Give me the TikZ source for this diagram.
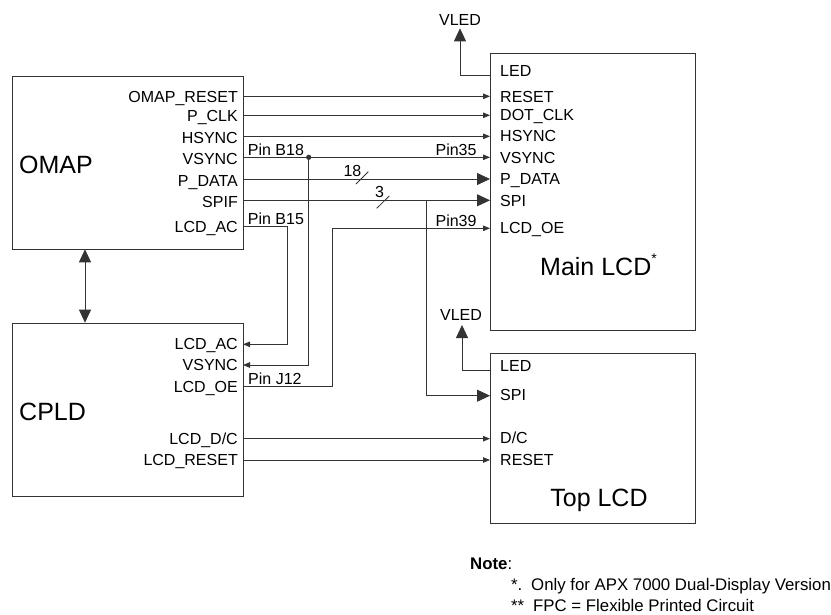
\documentclass[tikz,border=0pt]{standalone}
\usepackage{fontspec}
\setmainfont{Liberation Sans}
\usetikzlibrary{arrows.meta}
\definecolor{lc}{gray}{0.2}
\begin{document}
\begin{tikzpicture}[x=1pt,y=-1pt,
  box/.style={draw=lc, line width=0.9pt, inner sep=0pt, anchor=north west},
  lbl/.style={font=\fontsize{16}{18}\selectfont, inner sep=0pt, text=black},
  big/.style={font=\fontsize{25}{28}\selectfont, inner sep=0pt, text=black},
  nt/.style={font=\fontsize{16.8}{19}\selectfont, inner sep=0pt, text=black, anchor=base west},
  wire/.style={draw=lc, line width=0.8pt},
  sarr/.style={-{Triangle[length=7pt,width=5.5pt]}},
  barr/.style={-{Triangle[length=13pt,width=12pt]}},
  dbarr/.style={{Triangle[length=13pt,width=12pt]}-{Triangle[length=13pt,width=12pt]}}
]
\useasboundingbox (0,0) rectangle (831,614);

% boxes
\node[box, minimum width=231pt, minimum height=173pt] (omap) at (12,76) {};
\node[box, minimum width=231pt, minimum height=173.3pt] (cpld) at (12,322.7) {};
\node[box, minimum width=204.7pt, minimum height=277pt] (main) at (490,53.3) {};
\node[box, minimum width=204.7pt, minimum height=170.3pt] (top) at (490,352.7) {};

% big titles
\node[big, anchor=base west] (tomap) at (19,173.3) {OMAP};
\node[big, anchor=base west] (tcpld) at (19,420) {CPLD};
\node[big, anchor=base west] (tmain) at (540,275) {Main LCD\raisebox{0.45em}{\fontsize{14}{16}\selectfont *}};
\node[big, anchor=base] (ttop) at (599,506) {Top LCD};

% OMAP labels
\node[lbl, anchor=base east] (oa) at (238,102.8) {OMAP\_RESET};
\node[lbl, anchor=base east] (ob) at (238,121.5) {P\_CLK};
\node[lbl, anchor=base east] (oc) at (238,143) {HSYNC};
\node[lbl, anchor=base east] (od) at (238,164.5) {VSYNC};
\node[lbl, anchor=base east] (oe) at (238,186) {P\_DATA};
\node[lbl, anchor=base east] (of) at (238,207.5) {SPIF};
\node[lbl, anchor=base east] (og) at (238,232) {LCD\_AC};

% CPLD labels
\node[lbl, anchor=base east] (ca) at (238,349.5) {LCD\_AC};
\node[lbl, anchor=base east] (cb) at (238,370.3) {VSYNC};
\node[lbl, anchor=base east] (cc) at (238,392) {LCD\_OE};
\node[lbl, anchor=base east] (cd) at (238,444) {LCD\_D/C};
\node[lbl, anchor=base east] (ce) at (238,465) {LCD\_RESET};

% Main LCD labels
\node[lbl, anchor=base west] (ma) at (500,76) {LED};
\node[lbl, anchor=base west] (mb) at (500,102.5) {RESET};
\node[lbl, anchor=base west] (mc) at (500,120.8) {DOT\_CLK};
\node[lbl, anchor=base west] (md) at (500,141.8) {HSYNC};
\node[lbl, anchor=base west] (me) at (500,163) {VSYNC};
\node[lbl, anchor=base west] (mf) at (500,184.8) {P\_DATA};
\node[lbl, anchor=base west] (mg) at (500,206) {SPI};
\node[lbl, anchor=base west] (mh) at (500,233.5) {LCD\_OE};

% Top LCD labels
\node[lbl, anchor=base west] (ta) at (500,371.5) {LED};
\node[lbl, anchor=base west] (tb) at (500,400.7) {SPI};
\node[lbl, anchor=base west] (tc) at (500,443.5) {D/C};
\node[lbl, anchor=base west] (td) at (500,465) {RESET};

% VLED
\node[lbl, anchor=base] (v1) at (460,25.5) {VLED};
\node[lbl, anchor=base] (v2) at (461,320.5) {VLED};

% pin labels
\node[lbl, anchor=base west] (pb18) at (247.7,155) {Pin B18};
\node[lbl, anchor=base west] (pb15) at (247.7,224) {Pin B15};
\node[lbl, anchor=base west] (pj12) at (248,384) {Pin J12};
\node[lbl, anchor=base east] (p35) at (476.7,155) {Pin35};
\node[lbl, anchor=base east] (p39) at (476.7,226.5) {Pin39};
\node[lbl, anchor=base west] (n18) at (343.3,176.5) {18};
\node[lbl, anchor=base west] (n3) at (375,197) {3};

% port coordinates
\coordinate (oA) at (243,96.3);  \coordinate (mA) at (490,96.3);
\coordinate (oB) at (243,115.3); \coordinate (mB) at (490,115.3);
\coordinate (oC) at (243,136.3); \coordinate (mC) at (490,136.3);
\coordinate (oD) at (243,157.3); \coordinate (mD) at (490,157.3);
\coordinate (oE) at (243,179);   \coordinate (mE) at (490,179);
\coordinate (oF) at (243,200.3); \coordinate (mF) at (490,200.3);
\coordinate (oG) at (243,226.7);
\coordinate (mH) at (490,228.3);
\coordinate (cA) at (243,344.3);
\coordinate (cB) at (243,365);
\coordinate (cC) at (243,386.7);
\coordinate (cD) at (243,438.7); \coordinate (tD) at (490,438.7);
\coordinate (cE) at (243,460);   \coordinate (tE) at (490,460);
\coordinate (tB) at (490,395.7);
\coordinate (mLED) at (490,75.3); \coordinate (vt1) at (460,28.3);
\coordinate (tLED) at (490,370);  \coordinate (vt2) at (462,325);
\coordinate (dot) at (308.7,157.3);
\coordinate (spiB) at (426,200.3);
\coordinate (ob) at (85,249.3); \coordinate (ct) at (85,322.7);

% wires OMAP -> Main LCD
\draw[wire,sarr] (oA) -- (mA);
\draw[wire,sarr] (oB) -- (mB);
\draw[wire,sarr] (oC) -- (mC);
\draw[wire,sarr] (oD) -- (mD);
\draw[wire,barr] (oE) -- (mE);
\draw[wire,barr] (oF) -- (mF);

% bus slashes
\draw[wire] (356,184) -- (368.3,171.7);
\draw[wire] (376.7,208.3) -- (389.3,196);

% VSYNC branch to CPLD
\fill[lc] (dot) circle (2.6pt);
\draw[wire,sarr] (dot) |- (cB);
% LCD_AC to CPLD
\draw[wire,sarr] (oG) -| (287.3,300) |- (cA);
% LCD_OE from CPLD to Main LCD
\draw[wire,sarr] (cC) -| (332.3,228.3) -- (mH);
% SPI branch to Top LCD
\draw[wire,barr] (spiB) |- (tB);
% CPLD -> Top LCD
\draw[wire,sarr] (cD) -- (tD);
\draw[wire,sarr] (cE) -- (tE);
% VLED
\draw[wire,barr] (mLED) -| (vt1);
\draw[wire,barr] (tLED) -| (vt2);
% OMAP <-> CPLD
\draw[wire,dbarr] (ob) -- (ct);

% note
\node[nt] (note) at (470,569) {\textbf{Note}:};
\node[nt] (n1a) at (511,590) {*.};
\node[nt] (n1) at (531,590) {Only for APX 7000 Dual-Display Version};
\node[nt] (n2a) at (511,611) {**};
\node[nt] (n2) at (533,611) {FPC = Flexible Printed Circuit};
\end{tikzpicture}
\end{document}
